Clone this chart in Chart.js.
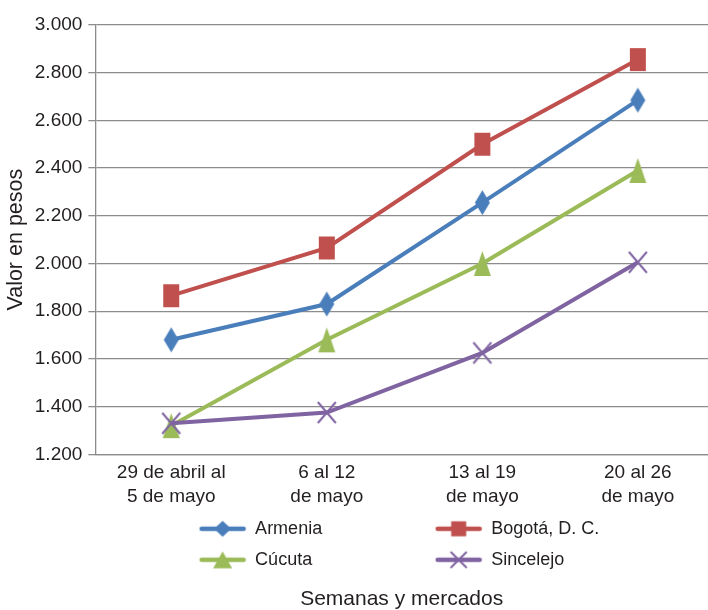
<!DOCTYPE html>
<html>
<head>
<meta charset="utf-8">
<script src="https://cdn.jsdelivr.net/npm/chart.js@4/dist/chart.umd.min.js"></script>
<style>
  html, body { margin: 0; padding: 0; background: #fff; }
  #wrap { width: 708px; height: 610px; }
</style>
</head>
<body>
<div id="wrap"><canvas id="priceChart"></canvas></div>
<script>
// data
const weeks = [
  ['29 de abril al', '5 de mayo'],
  ['6 al 12', 'de mayo'],
  ['13 al 19', 'de mayo'],
  ['20 al 26', 'de mayo']
];
const markets = ['Armenia', 'Bogotá, D. C.', 'Cúcuta', 'Sincelejo'];
const armenia = [1680, 1830, 2255, 2685];
const bogota = [1865, 2065, 2500, 2855];
const cucuta = [1320, 1680, 2000, 2390];
const sincelejo = [1330, 1375, 1625, 2005];
const yTickValues = [1200, 1400, 1600, 1800, 2000, 2200, 2400, 2600, 2800, 3000];
const yTickLabels = ['1.200', '1.400', '1.600', '1.800', '2.000', '2.200', '2.400', '2.600', '2.800', '3.000'];

const FONT = "'Liberation Sans', Arial, sans-serif";
const TEXT = '#231f20';
const GRID = '#8c8c8c';
Chart.defaults.font.family = FONT;

function drawShape(g, shape, w, h) {
  g.beginPath();
  if (shape === 'diamond') {
    g.moveTo(0, -h / 2); g.lineTo(w / 2, 0); g.lineTo(0, h / 2); g.lineTo(-w / 2, 0);
    g.closePath(); g.fill();
  } else if (shape === 'square') {
    g.fillRect(-w / 2, -h / 2, w, h);
  } else if (shape === 'triangle') {
    g.moveTo(0, -h / 2); g.lineTo(w / 2, h / 2); g.lineTo(-w / 2, h / 2);
    g.closePath(); g.fill();
  } else {
    g.lineWidth = 2;
    g.moveTo(-w / 2, -h / 2); g.lineTo(w / 2, h / 2);
    g.moveTo(w / 2, -h / 2); g.lineTo(-w / 2, h / 2);
    g.stroke();
  }
}

function marker(shape, color, w, h) {
  const c = document.createElement('canvas');
  c.width = w + 4; c.height = h + 4;
  const g = c.getContext('2d');
  g.translate(c.width / 2, c.height / 2);
  g.fillStyle = color; g.strokeStyle = color;
  drawShape(g, shape, w, h);
  return c;
}

function legendIcon(shape, color, w, h) {
  const c = document.createElement('canvas');
  c.width = 48; c.height = 22;
  const g = c.getContext('2d');
  g.strokeStyle = color; g.fillStyle = color;
  g.lineWidth = 4.5; g.lineCap = 'round';
  g.beginPath(); g.moveTo(3, 11); g.lineTo(45, 11); g.stroke();
  g.translate(24, 11);
  drawShape(g, shape, w, h);
  return c;
}

function series(label, values, color, shape, size, legendSize, order) {
  return {
    label: label,
    data: values.map((v, i) => ({ x: i, y: v })),
    borderColor: color,
    backgroundColor: color,
    borderWidth: 4,
    pointStyle: marker(shape, color, size[0], size[1]),
    pointRadius: 8,
    pointHoverRadius: 8,
    order: order,
    icon: legendIcon(shape, color, legendSize[0], legendSize[1])
  };
}

const datasets = [
  series(markets[0], armenia, '#4a7ebb', 'diamond', [15, 25], [17, 16], 4),
  series(markets[1], bogota, '#c0504d', 'square', [16, 23], [15, 15], 3),
  series(markets[2], cucuta, '#9bbb59', 'triangle', [17, 25], [19, 17], 2),
  series(markets[3], sincelejo, '#8064a2', 'cross', [18, 21], [15, 15], 1)
];

// pad legend texts so the four items fall into two columns
function makeLegendItems(chart) {
  const ctx = chart.ctx;
  ctx.save();
  ctx.font = '18px ' + FONT;
  const items = chart.data.datasets.map((ds, i) => {
    let text = ds.label;
    const target = i % 2 === 0 ? 167 : 113;
    while (ctx.measureText(text).width < target) text += ' ';
    return {
      text: text, datasetIndex: i, pointStyle: ds.icon,
      fillStyle: ds.borderColor, strokeStyle: ds.borderColor,
      lineWidth: 0, hidden: false, fontColor: TEXT
    };
  });
  ctx.restore();
  return items;
}

new Chart(document.getElementById('priceChart'), {
  type: 'line',
  data: { datasets: datasets },
  options: {
    responsive: true, maintainAspectRatio: false,
    animation: false,
    layout: { autoPadding: false, padding: { top: 25, right: 0, bottom: 0, left: 0 } },
    plugins: {
      tooltip: { enabled: false },
      legend: {
        position: 'bottom', fullSize: false,
        // empty title with negative padding: pulls the rows up towards the axis labels
        title: { display: true, text: '', font: { size: 0 }, padding: { top: -9, bottom: 0 } },
        labels: {
          usePointStyle: true, pointStyleWidth: 47, padding: 13,
          color: TEXT, font: { size: 18 },
          generateLabels: makeLegendItems
        }
      },
      title: {
        display: true, text: 'Semanas y mercados', position: 'bottom', fullSize: false,
        color: TEXT, font: { size: 21, weight: 'normal' },
        padding: { top: 8, bottom: -2 }
      }
    },
    scales: {
      x: {
        type: 'linear', min: -0.488, max: 3.451,
        afterBuildTicks: scale => { scale.ticks = weeks.map((w, i) => ({ value: i })); },
        grid: { display: false, drawTicks: false },
        border: { display: true, color: GRID, width: 1.3 },
        ticks: {
          color: TEXT, font: { size: 19, lineHeight: 1.25 }, padding: 7,
          autoSkip: false, maxRotation: 0,
          callback: v => weeks[v]
        }
      },
      y: {
        min: yTickValues[0], max: yTickValues[yTickValues.length - 1],
        afterBuildTicks: scale => { scale.ticks = yTickValues.map(v => ({ value: v })); },
        grid: { color: GRID, lineWidth: 1.3, tickLength: 7, drawTicks: true },
        border: { display: true, color: GRID, width: 1.3 },
        ticks: {
          color: TEXT, font: { size: 19 }, padding: 6,
          callback: v => yTickLabels[yTickValues.indexOf(v)]
        },
        title: {
          display: true, text: 'Valor en pesos', color: TEXT,
          font: { size: 21.5 }, padding: { top: 3, bottom: 0 }
        }
      }
    }
  }
});
</script>
</body>
</html>
